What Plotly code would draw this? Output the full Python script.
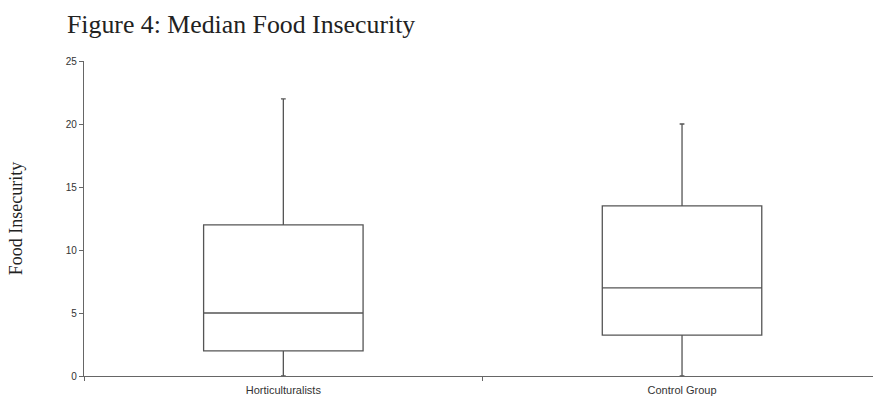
import plotly.graph_objects as go

# Five-number summaries of the food insecurity score per group
groups = ["Horticulturalists", "Control Group"]
lower_whisker = [0, 0]
q1 = [2, 3.25]
median = [5, 7]
q3 = [12, 13.5]
upper_whisker = [22, 20]

y_ticks = [0, 5, 10, 15, 20, 25]

fig = go.Figure()
fig.add_trace(go.Box(
    x=groups,
    lowerfence=lower_whisker,
    q1=q1,
    median=median,
    q3=q3,
    upperfence=upper_whisker,
    width=0.4,
    whiskerwidth=0.03,
    fillcolor="white",
    line=dict(color="#555555", width=1.3),
    boxpoints=False,
    hoverinfo="skip",
    showlegend=False,
))

fig.update_layout(
    width=873,
    height=396,
    margin=dict(l=84, r=0, t=61, b=20),
    paper_bgcolor="white",
    plot_bgcolor="white",
    title=dict(
        text="Figure 4: Median Food Insecurity",
        font=dict(family="Liberation Serif, Times New Roman, serif", size=25.8, color="#222222"),
        x=67 / 873, xanchor="left", xref="container",
        y=0.94, yanchor="middle", yref="container",
    ),
    xaxis=dict(
        type="category",
        range=[-0.5, 1.479],
        showline=True,
        linecolor="#666666",
        linewidth=1.3,
        ticks="outside",
        tickson="boundaries",
        ticklen=4,
        tickcolor="#666666",
        showgrid=False,
        zeroline=False,
        ticklabelstandoff=4,
        tickfont=dict(family="Liberation Sans, Arial, sans-serif", size=11, color="#333333"),
        automargin=False,
    ),
    yaxis=dict(
        range=[0, 25],
        tickvals=y_ticks,
        ticktext=[str(v) for v in y_ticks],
        showline=True,
        linecolor="#666666",
        linewidth=1.3,
        ticks="outside",
        ticklen=4,
        tickcolor="#666666",
        showgrid=False,
        zeroline=False,
        tickfont=dict(family="Liberation Sans, Arial, sans-serif", size=10, color="#333333"),
        title=dict(
            text="Food Insecurity",
            font=dict(family="Liberation Serif, Times New Roman, serif", size=18, color="#222222"),
            standoff=38,
        ),
        automargin=False,
    ),
)

fig.write_html("out.html")
